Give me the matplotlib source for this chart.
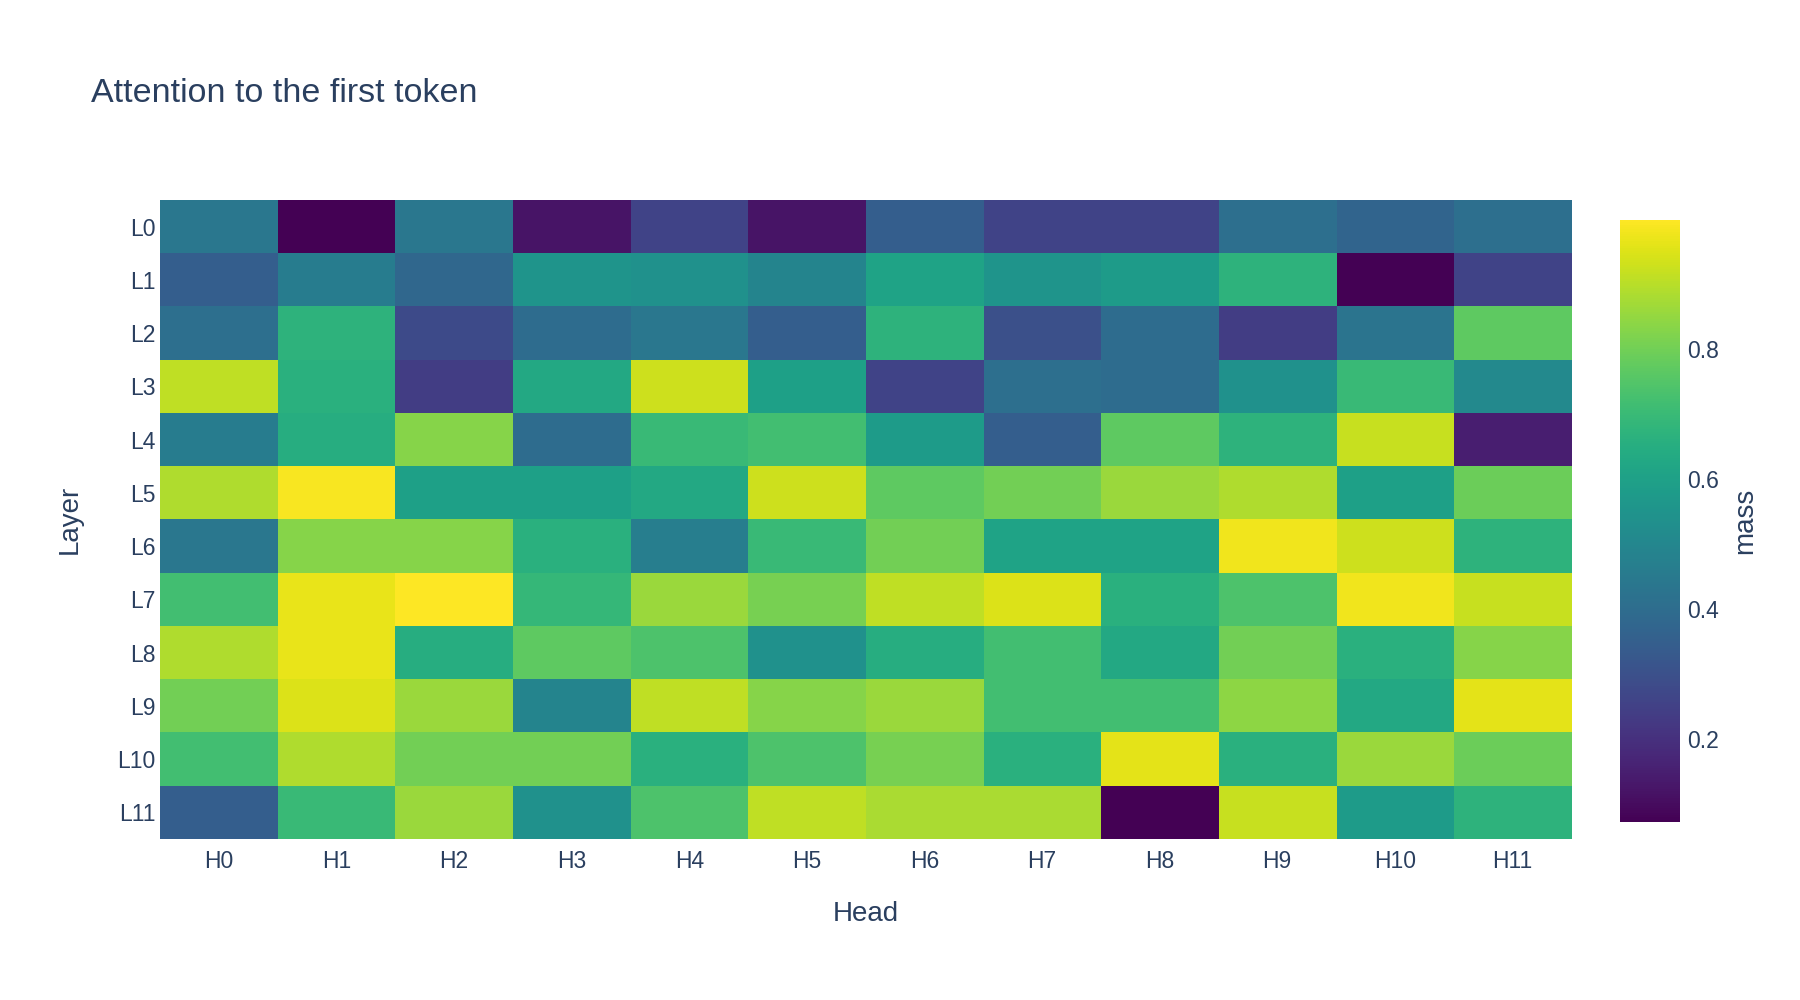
import matplotlib
matplotlib.use('Agg')
import matplotlib.pyplot as plt
import numpy as np

plt.rcParams['font.family'] = ['Liberation Sans', 'DejaVu Sans']

heads = ['H0', 'H1', 'H2', 'H3', 'H4', 'H5', 'H6', 'H7', 'H8', 'H9', 'H10', 'H11']
layers = ['L0', 'L1', 'L2', 'L3', 'L4', 'L5', 'L6', 'L7', 'L8', 'L9', 'L10', 'L11']

L0 = [0.44, 0.072, 0.44, 0.12, 0.26, 0.12, 0.35, 0.26, 0.26, 0.41, 0.37, 0.41]
L1 = [0.35, 0.46, 0.38, 0.55, 0.54, 0.49, 0.61, 0.55, 0.58, 0.67, 0.075, 0.26]
L2 = [0.41, 0.67, 0.28, 0.40, 0.44, 0.35, 0.67, 0.30, 0.40, 0.24, 0.43, 0.77]
L3 = [0.91, 0.66, 0.24, 0.63, 0.93, 0.60, 0.26, 0.41, 0.40, 0.54, 0.70, 0.51]
L4 = [0.46, 0.65, 0.83, 0.40, 0.70, 0.72, 0.58, 0.35, 0.77, 0.67, 0.92, 0.15]
L5 = [0.89, 0.99, 0.60, 0.60, 0.63, 0.93, 0.77, 0.80, 0.86, 0.89, 0.60, 0.79]
L6 = [0.44, 0.83, 0.83, 0.66, 0.47, 0.70, 0.80, 0.61, 0.61, 0.98, 0.93, 0.67]
L7 = [0.72, 0.97, 0.999, 0.69, 0.86, 0.81, 0.91, 0.95, 0.66, 0.74, 0.98, 0.92]
L8 = [0.89, 0.97, 0.65, 0.77, 0.74, 0.54, 0.65, 0.72, 0.63, 0.80, 0.66, 0.83]
L9 = [0.80, 0.95, 0.86, 0.49, 0.91, 0.83, 0.86, 0.72, 0.72, 0.84, 0.63, 0.96]
L10 = [0.72, 0.89, 0.80, 0.80, 0.66, 0.74, 0.81, 0.66, 0.96, 0.66, 0.86, 0.79]
L11 = [0.35, 0.70, 0.86, 0.54, 0.74, 0.91, 0.88, 0.88, 0.072, 0.92, 0.58, 0.67]

z = np.array([L0, L1, L2, L3, L4, L5, L6, L7, L8, L9, L10, L11])

txt = '#2a3f5f'

fig = plt.figure(figsize=(18, 10), dpi=100)
ax = fig.add_axes([0.0889, 0.161, 0.784, 0.639])
im = ax.imshow(z, cmap='viridis', aspect='auto', vmin=z.min(), vmax=z.max(),
               interpolation='nearest')
ax.set_xticks(range(len(heads)))
ax.set_xticklabels(heads)
ax.set_yticks(range(len(layers)))
ax.set_yticklabels(layers)
ax.tick_params(length=0, labelsize=16.5, labelcolor=txt)
ax.tick_params(axis='x', pad=8)
ax.tick_params(axis='y', pad=3)
for s in ax.spines.values():
    s.set_visible(False)
ax.set_xlabel('Head', fontsize=20, color=txt, labelpad=20)
ax.set_ylabel('Layer', fontsize=20, color=txt, labelpad=25)

cax = fig.add_axes([0.9, 0.178, 0.0333, 0.602])
cb = fig.colorbar(im, cax=cax)
cb.outline.set_visible(False)
cb.set_ticks([0.2, 0.4, 0.6, 0.8])
cb.ax.tick_params(length=0, labelsize=16.5, labelcolor=txt, pad=5)
cb.set_label('mass', fontsize=20, color=txt, labelpad=10)

fig.text(0.0506, 0.907, 'Attention to the first token', fontsize=24.5, color=txt,
         va='center', ha='left')

fig.savefig('out.png', dpi=100)
